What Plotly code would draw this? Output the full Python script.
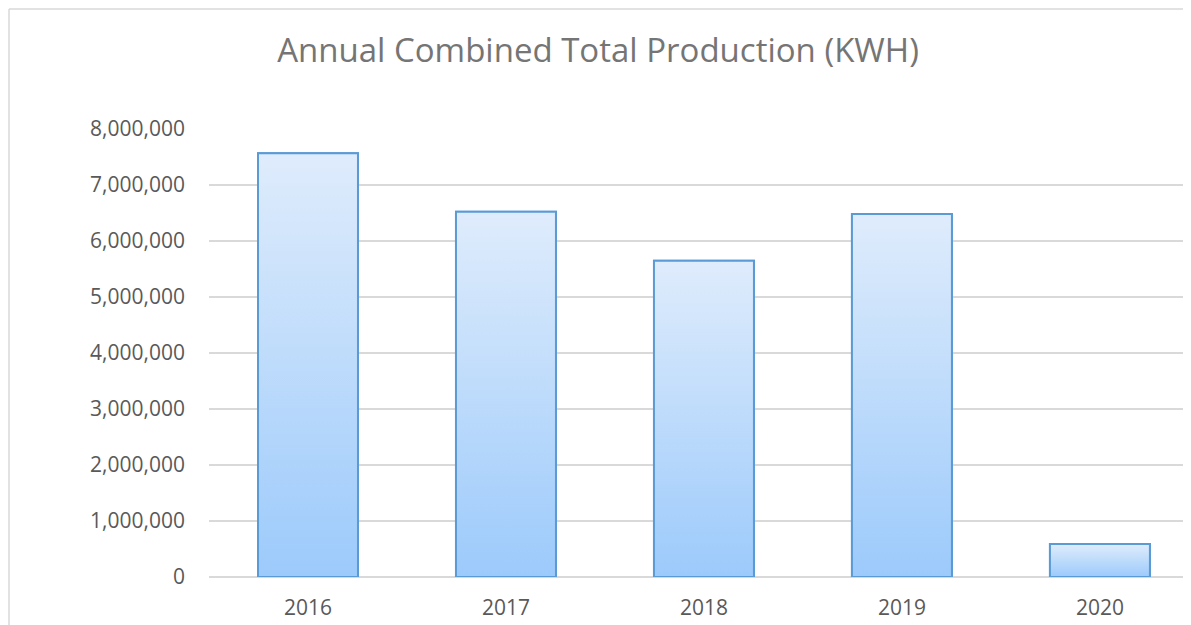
import plotly.graph_objects as go

years = ["2016", "2017", "2018", "2019", "2020"]
production = [7566000, 6523000, 5648000, 6482000, 590000]
y_ticks = [0, 1000000, 2000000, 3000000, 4000000, 5000000, 6000000, 7000000, 8000000]

BAR_W = 0.505
EDGE = "#5B9BD5"
TOP_C = "#DFECFC"
BOT_C = "#9CCAFB"

fig = go.Figure()

# base bars
fig.add_trace(go.Bar(
    x=list(range(len(years))), y=production, width=BAR_W,
    marker=dict(color=BOT_C, line=dict(color=EDGE, width=2)),
    showlegend=False, hoverinfo="skip",
))

# gradient overlay for each bar, derived from the same data
for i, v in enumerate(production):
    x0, x1 = i - BAR_W / 2, i + BAR_W / 2
    fig.add_trace(go.Scatter(
        x=[x0, x1, x1, x0, x0], y=[0, 0, v, v, 0],
        mode="lines", fill="toself",
        fillgradient=dict(type="vertical", colorscale=[[0, BOT_C], [1, TOP_C]]),
        line=dict(color=EDGE, width=2),
        showlegend=False, hovertemplate=f"{years[i]}: %{{y:,}}<extra></extra>",
    ))

W, H = 1183, 617
L, R, T, B = 201, 0, 121, 48
pw, ph = W - L - R, H - T - B

fig.update_layout(
    width=W, height=H,
    margin=dict(l=L, r=R, t=T, b=B),
    paper_bgcolor="white", plot_bgcolor="white",
    font=dict(family="Open Sans", color="#595959"),
    title=dict(text="Annual Combined Total Production (KWH)",
               x=590 / W, xanchor="center", y=1 - 42 / H, yanchor="middle",
               xref="container", yref="container",
               font=dict(family="Open Sans", size=33, color="#757575")),
    xaxis=dict(range=[-0.5, 4.46], tickvals=list(range(len(years))), ticktext=years,
               showgrid=False, zeroline=False, showline=False, ticks="",
               ticklabelstandoff=16,
               tickfont=dict(family="Open Sans", size=21, color="#595959")),
    yaxis=dict(range=[0, 8000000], tickvals=y_ticks, tickformat=",d",
               showgrid=True, gridcolor="#D9D9D9", gridwidth=1.5,
               zeroline=True, zerolinecolor="#D9D9D9", zerolinewidth=1.5,
               showline=False, ticks="", ticklabelstandoff=23,
               tickfont=dict(family="Open Sans", size=21, color="#595959")),
    shapes=[
        dict(type="line", xref="paper", yref="paper",
             x0=(1 - L) / pw, x1=(1 - L) / pw, y0=(H - B - 1) / ph, y1=-B / ph,
             line=dict(color="#D9D9D9", width=1.5)),
        dict(type="line", xref="paper", yref="paper",
             x0=(1 - L) / pw, x1=1.0, y0=(H - B - 1) / ph, y1=(H - B - 1) / ph,
             line=dict(color="#D9D9D9", width=1.5)),
    ],
)

fig.write_html("out.html")
